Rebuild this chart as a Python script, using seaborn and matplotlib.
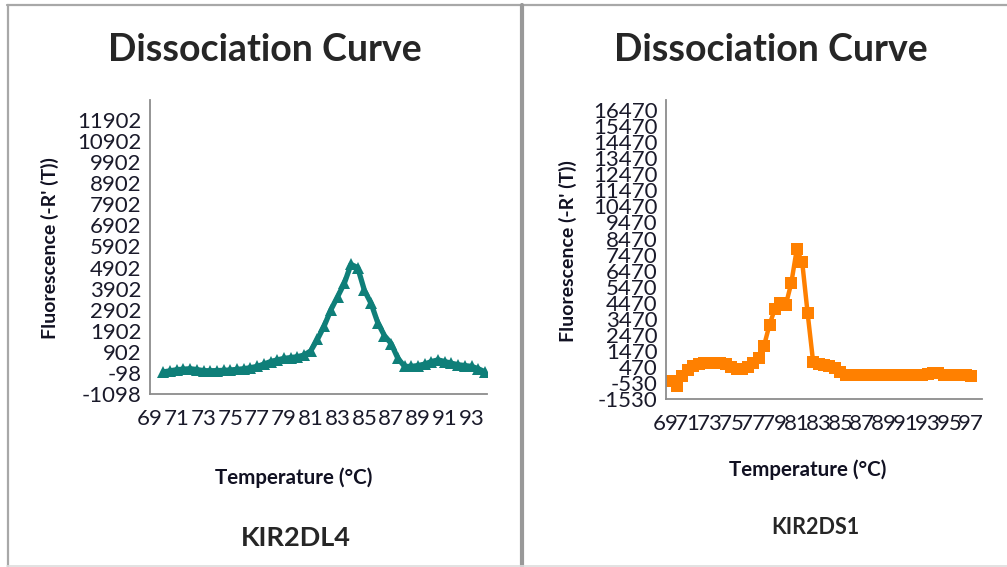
import numpy as np
import pandas as pd
import matplotlib
matplotlib.use("Agg")
import matplotlib.pyplot as plt
import seaborn as sns
from matplotlib.lines import Line2D

# --- data ---
temp_dl4 = [70.0, 70.5, 71.0, 71.5, 72.0, 72.5, 73.0, 73.5, 74.0, 74.5,
            75.0, 75.5, 76.0, 76.5, 77.0, 77.5, 78.0, 78.5, 79.0, 79.5,
            80.0, 80.5, 81.0, 81.5, 82.0, 82.5, 83.0, 83.5, 84.0, 84.5,
            85.0, 85.5, 86.0, 86.5, 87.0, 87.5, 88.0, 88.5, 89.0, 89.5,
            90.0, 90.5, 91.0, 91.5, 92.0, 92.5, 93.0, 93.5, 94.0]
fluor_dl4 = [-50, 0, 55, 80, 100, 60, 10, 5, 10, 25,
             40, 70, 100, 150, 210, 320, 440, 520, 590, 630,
             670, 750, 950, 1500, 2130, 2900, 3520, 4150, 5050, 4900,
             3820, 3200, 2280, 1670, 1290, 590, 210, 210, 250, 320,
             440, 520, 440, 360, 290, 250, 210, 100, -50]

temp_ds1 = [69.5, 70.0, 70.5, 71.0, 71.5, 72.0, 72.5, 73.0, 73.5, 74.0,
            74.5, 75.0, 75.5, 76.0, 76.5, 77.0, 77.5, 78.0, 78.5, 79.0,
            79.5, 80.0, 80.5, 81.0, 81.5, 82.0, 82.5, 83.0, 83.5, 84.0,
            84.5, 85.0, 85.5, 86.0, 86.5, 87.0, 87.5, 88.0, 88.5, 89.0,
            89.5, 90.0, 90.5, 91.0, 91.5, 92.0, 92.5, 93.0, 93.5, 94.0,
            94.5, 95.0, 95.5, 96.0, 96.5, 97.0]
fluor_ds1 = [-400, -700, -100, 300, 550, 680, 720, 720, 720, 700,
             620, 450, 320, 330, 450, 700, 1050, 1800, 3100, 4100,
             4450, 4350, 5700, 7800, 7000, 3800, 800, 650, 560, 520,
             400, 150, -20, -20, -20, -20, -20, -20, -20, -20,
             -20, -20, -20, -20, -20, -20, -20, 0, 80, 60,
             -20, -30, -30, -30, -30, -120]

yticks_dl4 = np.arange(-1098, 11903, 1000)
yticks_ds1 = np.arange(-1530, 16471, 1000)
xticks_dl4 = np.arange(69, 94, 2)
xticks_ds1 = np.arange(69, 98, 2)

sns.set_style("white")
plt.rcParams['font.family'] = ['Lato', 'DejaVu Sans']
plt.rcParams['axes.unicode_minus'] = False

fig = plt.figure(figsize=(10.07, 5.67), dpi=100)
W, H = 1007, 567

def px_axes(x0, y0, x1, y1):
    return fig.add_axes([x0 / W, 1 - y1 / H, (x1 - x0) / W, (y1 - y0) / H])

ax1 = px_axes(150, 100, 487, 394)
ax2 = px_axes(666, 100, 982, 399)

df1 = pd.DataFrame({"t": temp_dl4, "f": fluor_dl4})
df2 = pd.DataFrame({"t": temp_ds1, "f": fluor_ds1})

sns.lineplot(data=df1, x="t", y="f", ax=ax1, color="#0f7f79", lw=3.8,
             marker="^", markersize=8, markeredgewidth=0)
sns.lineplot(data=df2, x="t", y="f", ax=ax2, color="#ff8000", lw=3.2,
             marker="s", markersize=9, markeredgewidth=0)

for ax, xt, yt, xl, yl in [(ax1, xticks_dl4, yticks_dl4, (69, 94.15), (-1098, 12850)),
                           (ax2, xticks_ds1, yticks_ds1, (69, 98.0), (-1530, 17100))]:
    ax.set_xlim(*xl)
    ax.set_ylim(*yl)
    ax.set_xticks(xt)
    ax.set_yticks(yt)
    ax.set_xlabel("")
    ax.set_ylabel("")
    for s in ["top", "right"]:
        ax.spines[s].set_visible(False)
    for s in ["left", "bottom"]:
        ax.spines[s].set_color("#8c8c8c")
        ax.spines[s].set_linewidth(1.3)
    ax.tick_params(axis="both", direction="out", length=5, width=1.2,
                   color="#8c8c8c", labelsize=16, labelcolor="#1a1a2a")
    ax.tick_params(axis="y", pad=1)
    ax.tick_params(axis="x", pad=6)
    ax.set_facecolor("none")

# titles and labels
fig.text(265 / W, 1 - 50 / H, "Dissociation Curve", ha="center", va="center",
         fontsize=27, fontweight="bold")
fig.text(771 / W, 1 - 50 / H, "Dissociation Curve", ha="center", va="center",
         fontsize=27, fontweight="bold")
fig.text(294 / W, 1 - 478 / H, "Temperature (°C)", ha="center", va="center",
         fontsize=14.8, fontweight="bold", color="#111122")
fig.text(808 / W, 1 - 470 / H, "Temperature (°C)", ha="center", va="center",
         fontsize=14.8, fontweight="bold", color="#111122")
fig.text(296 / W, 1 - 538 / H, "KIR2DL4", ha="center", va="center",
         fontsize=19.5, fontweight="bold")
fig.text(815 / W, 1 - 527 / H, "KIR2DS1", ha="center", va="center",
         fontsize=15.5, fontweight="bold")
fig.text(50 / W, 1 - 248 / H, "Fluorescence (-R' (T))", ha="center", va="center",
         rotation=90, fontsize=14, fontweight="bold", color="#111122")
fig.text(568 / W, 1 - 251 / H, "Fluorescence (-R' (T))", ha="center", va="center",
         rotation=90, fontsize=14, fontweight="bold", color="#111122")

# panel borders
fig.add_artist(Line2D([7 / W, 1], [1 - 5 / H, 1 - 5 / H], color="#a8a8a8", lw=1.6))
fig.add_artist(Line2D([7.5 / W, 7.5 / W], [0, 1 - 5 / H], color="#a8a8a8", lw=1.6))
fig.add_artist(Line2D([522 / W, 522 / W], [0, 1 - 5 / H], color="#999999", lw=3))
fig.add_artist(Line2D([7 / W, 1], [1 / H, 1 / H], color="#dddddd", lw=1.2))

fig.savefig("out.png", dpi=100)
